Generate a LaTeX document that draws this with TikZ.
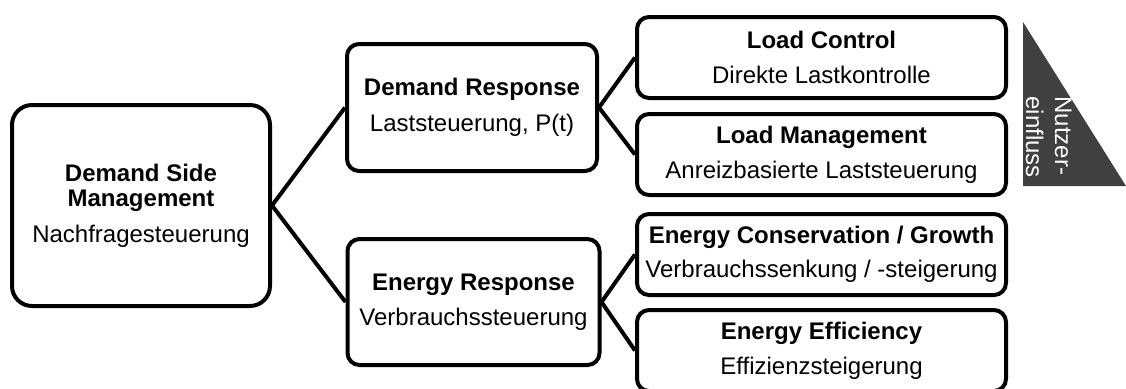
\documentclass[tikz,border=0pt]{standalone}
\usepackage{fontspec}
\setmainfont{Liberation Sans}
\usepackage{xcolor}
\usetikzlibrary{positioning}
\definecolor{tridark}{HTML}{404040}

\tikzset{
    box/.style={draw, line width=2pt, rounded corners=6pt, align=center, inner sep=0pt,
        font=\fontsize{12}{12.5}\selectfont},
    link/.style={line width=2pt},
}

\begin{document}
\begin{tikzpicture}[x=0.5pt,y=-0.5pt]
    \useasboundingbox (0,0) rectangle (1126,388);

    \node[box, rounded corners=10pt, minimum width=129pt, minimum height=100.5pt] (dsm) at (141,205.5)
        {\textbf{Demand Side}\\\textbf{Management}\\[5.5pt]Nachfragesteuerung};

    \node[box, minimum width=125pt, minimum height=63.5pt] (dr) at (472,107.5)
        {\textbf{Demand Response}\\[5.5pt]Laststeuerung, P(t)};
    \node[box, minimum width=126pt, minimum height=63pt] (er) at (473.5,302)
        {\textbf{Energy Response}\\[5pt]Verbrauchssteuerung};

    \node[box, minimum width=184.5pt, minimum height=40.5pt] (lc) at (821.5,57.5)
        {\textbf{Load Control}\\[5pt]Direkte Lastkontrolle};
    \node[box, minimum width=184.5pt, minimum height=40.5pt] (lm) at (821.5,154.5)
        {\textbf{Load Management}\\[5pt]Anreizbasierte Laststeuerung};
    \node[box, minimum width=184.5pt, minimum height=40.5pt] (ecg) at (821.5,254.5)
        {\textbf{Energy Conservation / Growth}\\[4.5pt]Verbrauchssenkung / -steigerung};
    \node[box, minimum width=184.5pt, minimum height=40.5pt] (ee) at (821.5,350.5)
        {\textbf{Energy Efficiency}\\[5pt]Effizienzsteigerung};

    \foreach \a/\b in {dsm/dr, dsm/er, dr/lc, dr/lm, er/ecg, er/ee}
        \draw[link] (\a.east) -- (\b.west);

    % Nutzereinfluss
    \fill[tridark] (1023,22) -- (1023,186) -- (1126,186) -- cycle;
    \node[rotate=-90, anchor=north west, inner sep=0pt, align=left, text=white,
        font=\fontsize{12}{14.5}\selectfont] (nutzer) at (1072,96) {Nutzer-\\einfluss};
\end{tikzpicture}
\end{document}
